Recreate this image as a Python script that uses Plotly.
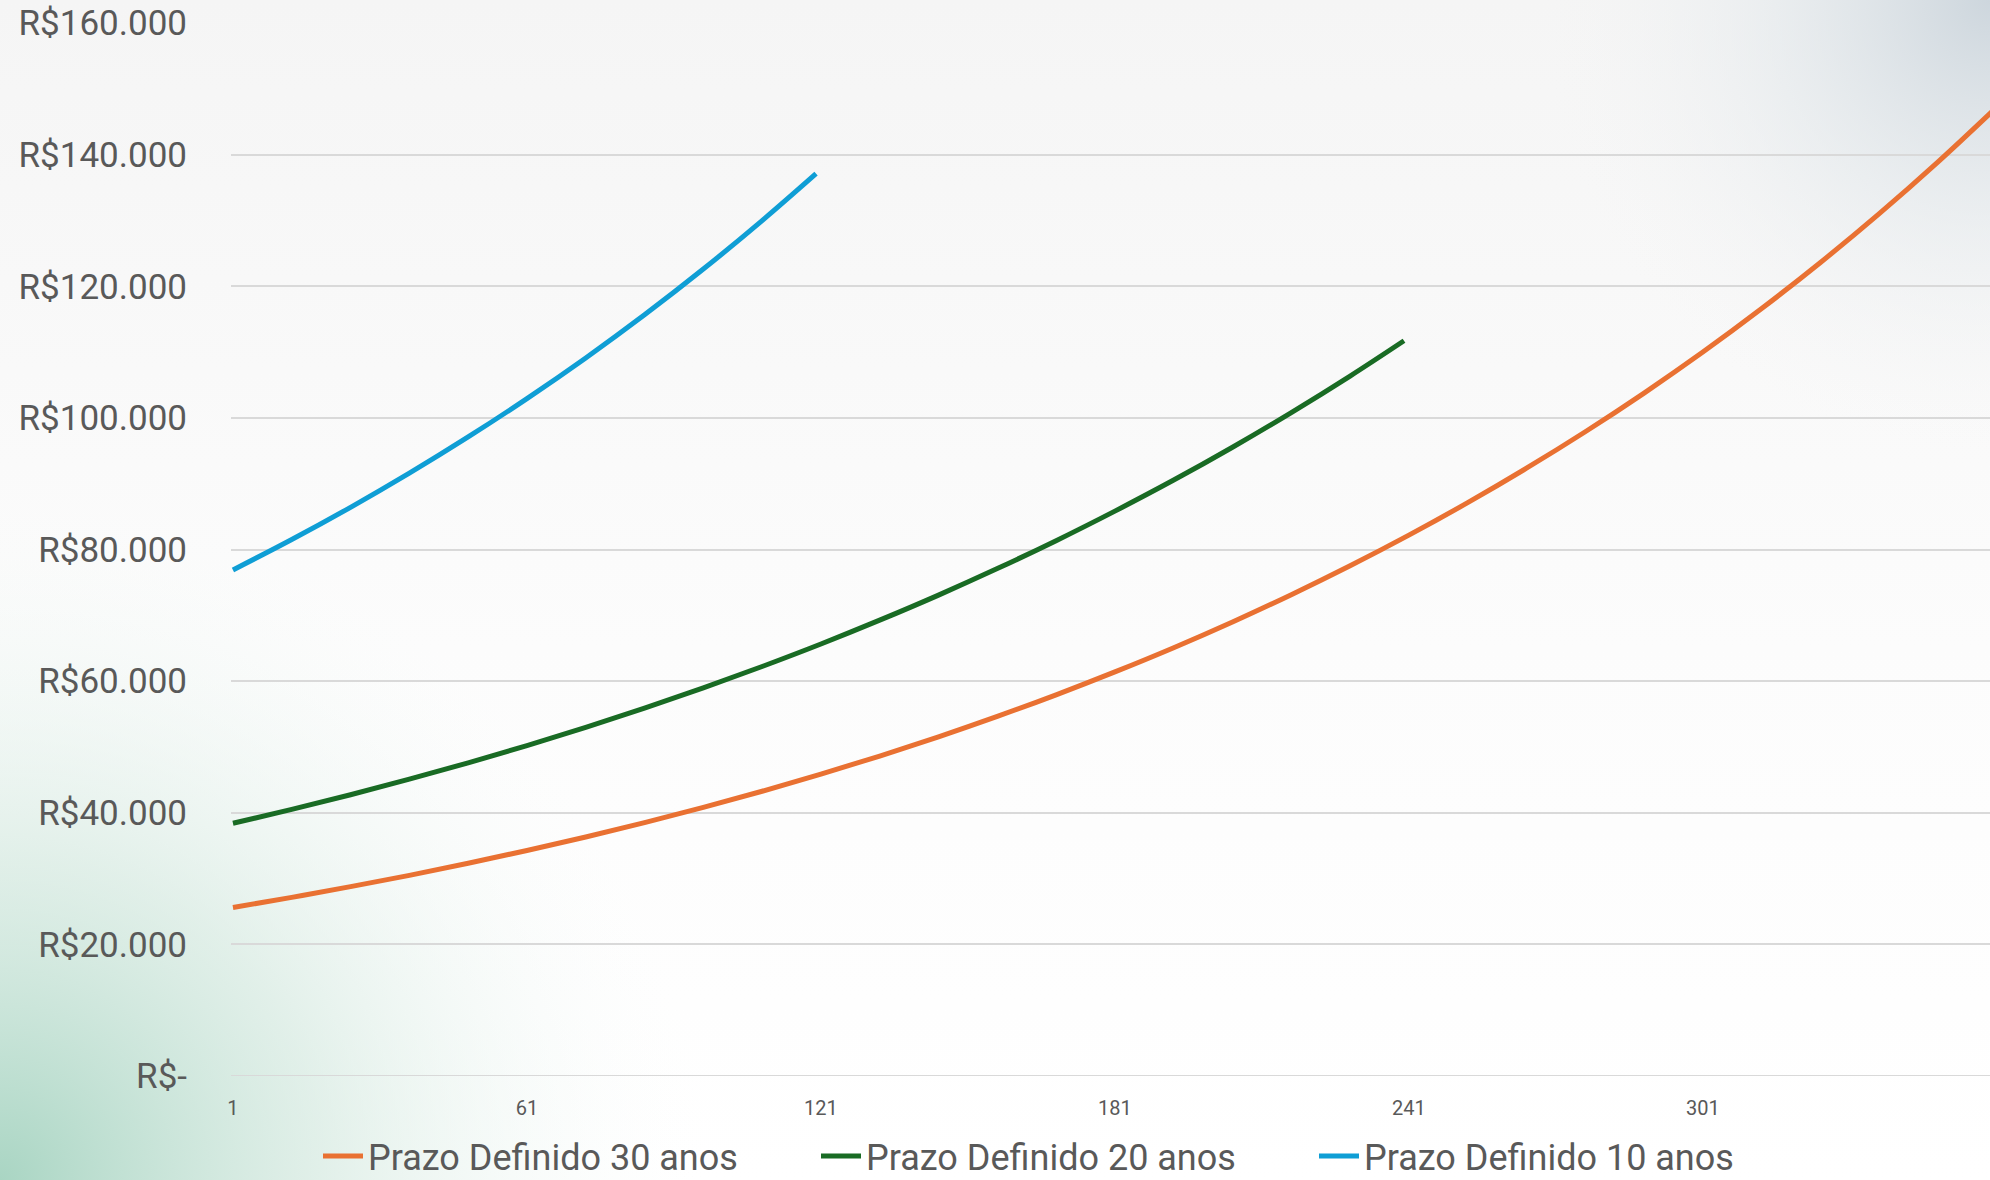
import base64
import plotly.graph_objects as go

# ---- data ----
months_30 = [1, 13, 25, 37, 49, 61, 73, 85, 97, 109, 121, 133, 145, 157, 169, 181,
             193, 205, 217, 229, 241, 253, 265, 277, 289, 301, 313, 325, 337, 349, 360]
valores_30 = [25600, 27140, 28770, 30490, 32320, 34270, 36320, 38500, 40820, 43270,
              45870, 48620, 51540, 54640, 57920, 61400, 65080, 68990, 73140, 77530,
              82180, 87120, 92350, 97890, 103770, 110000, 116610, 123610, 131030,
              138900, 146530]

months_20 = [1, 13, 25, 37, 49, 61, 73, 85, 97, 109, 121, 133, 145, 157, 169, 181,
             193, 205, 217, 229, 240]
valores_20 = [38400, 40510, 42740, 45100, 47580, 50200, 52970, 55890, 58970, 62220,
              65640, 69260, 73070, 77100, 81340, 85830, 90550, 95540, 100810, 106360,
              111720]

months_10 = [1, 13, 25, 37, 49, 61, 73, 85, 97, 109, 120]
valores_10 = [76900, 81520, 86410, 91600, 97100, 102930, 109110, 115660, 122610,
              129970, 137100]

series_names = ["Prazo Definido 30 anos", "Prazo Definido 20 anos", "Prazo Definido 10 anos"]
series_colors = ["#E97132", "#196B24", "#0F9ED5"]

x_tickvals = [1, 61, 121, 181, 241, 301]
x_ticktext = ["1", "61", "121", "181", "241", "301"]
y_tickvals = [0, 20000, 40000, 60000, 80000, 100000, 120000, 140000, 160000]
y_ticktext = ["R$-", "R$20.000", "R$40.000", "R$60.000", "R$80.000",
              "R$100.000", "R$120.000", "R$140.000", "R$160.000"]

# ---- figure geometry ----
W, H = 1990, 1180
ML, MR, MT, MB = 231, 0, 23, 104
PW, PH = W - ML - MR, H - MT - MB

fig = go.Figure()
for xs, ys, name, col in zip([months_30, months_20, months_10],
                             [valores_30, valores_20, valores_10],
                             series_names, series_colors):
    fig.add_trace(go.Scatter(x=xs, y=ys, name=name, mode="lines",
                             line=dict(color=col, width=5, shape="spline"),
                             hoverinfo="skip"))

# background gradient (decorative)
svg = f'''<svg xmlns="http://www.w3.org/2000/svg" width="{W}" height="{H}" viewBox="0 0 {W} {H}">
<defs>
<linearGradient id="base" x1="0" y1="0" x2="0" y2="1">
<stop offset="0" stop-color="#F5F5F5"/><stop offset="0.55" stop-color="#FCFCFC"/><stop offset="1" stop-color="#FFFFFF"/>
</linearGradient>
<radialGradient id="gr" cx="0" cy="{H}" r="720" gradientUnits="userSpaceOnUse">
<stop offset="0" stop-color="#A9D5C3" stop-opacity="1"/>
<stop offset="0.45" stop-color="#D2E8DE" stop-opacity="0.65"/>
<stop offset="1" stop-color="#FFFFFF" stop-opacity="0"/>
</radialGradient>
<radialGradient id="bl" cx="{W}" cy="0" r="450" gradientUnits="userSpaceOnUse">
<stop offset="0" stop-color="#CDD6DD" stop-opacity="1"/>
<stop offset="0.5" stop-color="#E4E9EC" stop-opacity="0.6"/>
<stop offset="1" stop-color="#F5F5F5" stop-opacity="0"/>
</radialGradient>
</defs>
<rect width="{W}" height="{H}" fill="url(#base)"/>
<rect width="{W}" height="{H}" fill="url(#gr)"/>
<rect width="{W}" height="{H}" fill="url(#bl)"/>
</svg>'''
uri = "data:image/svg+xml;base64," + base64.b64encode(svg.encode()).decode()
fig.add_layout_image(dict(source=uri, xref="paper", yref="paper",
                          x=-ML / PW, y=1 + MT / PH, sizex=W / PW, sizey=H / PH,
                          xanchor="left", yanchor="top", sizing="stretch",
                          layer="below", opacity=1))

font_fam = "Roboto, Liberation Sans, Arial, sans-serif"
fig.update_layout(
    width=W, height=H,
    margin=dict(l=ML, r=MR, t=MT, b=MB, autoexpand=False),
    paper_bgcolor="white", plot_bgcolor="rgba(0,0,0,0)",
    font=dict(family=font_fam, color="#595959"),
    showlegend=True,
    legend=dict(orientation="h", x=(318 - ML) / PW, xanchor="left", y=-0.076,
                yanchor="middle",
                font=dict(size=36, color="#595959", family=font_fam),
                bgcolor="rgba(0,0,0,0)", entrywidth=443, itemwidth=40,
                traceorder="normal"),
    xaxis=dict(range=[0.6, 359.6], tickmode="array", tickvals=x_tickvals,
               ticktext=x_ticktext, showgrid=False, zeroline=False, showline=False,
               ticks="", ticklabelstandoff=18,
               tickfont=dict(size=20, color="#595959", family=font_fam)),
    yaxis=dict(range=[0, 160000], tickmode="array", tickvals=y_tickvals,
               ticktext=y_ticktext, showgrid=True, gridcolor="#D9D9D9", gridwidth=2,
               zeroline=False, showline=False, ticks="", ticklabelstandoff=43,
               tickfont=dict(size=35, color="#595959", family=font_fam)),
)
fig.add_hline(y=0, line=dict(color="#D9D9D9", width=2), layer="below")

fig.write_html("out.html", config={"displayModeBar": False},
               post_script="document.body.style.margin='0';document.body.style.overflow='hidden';")
